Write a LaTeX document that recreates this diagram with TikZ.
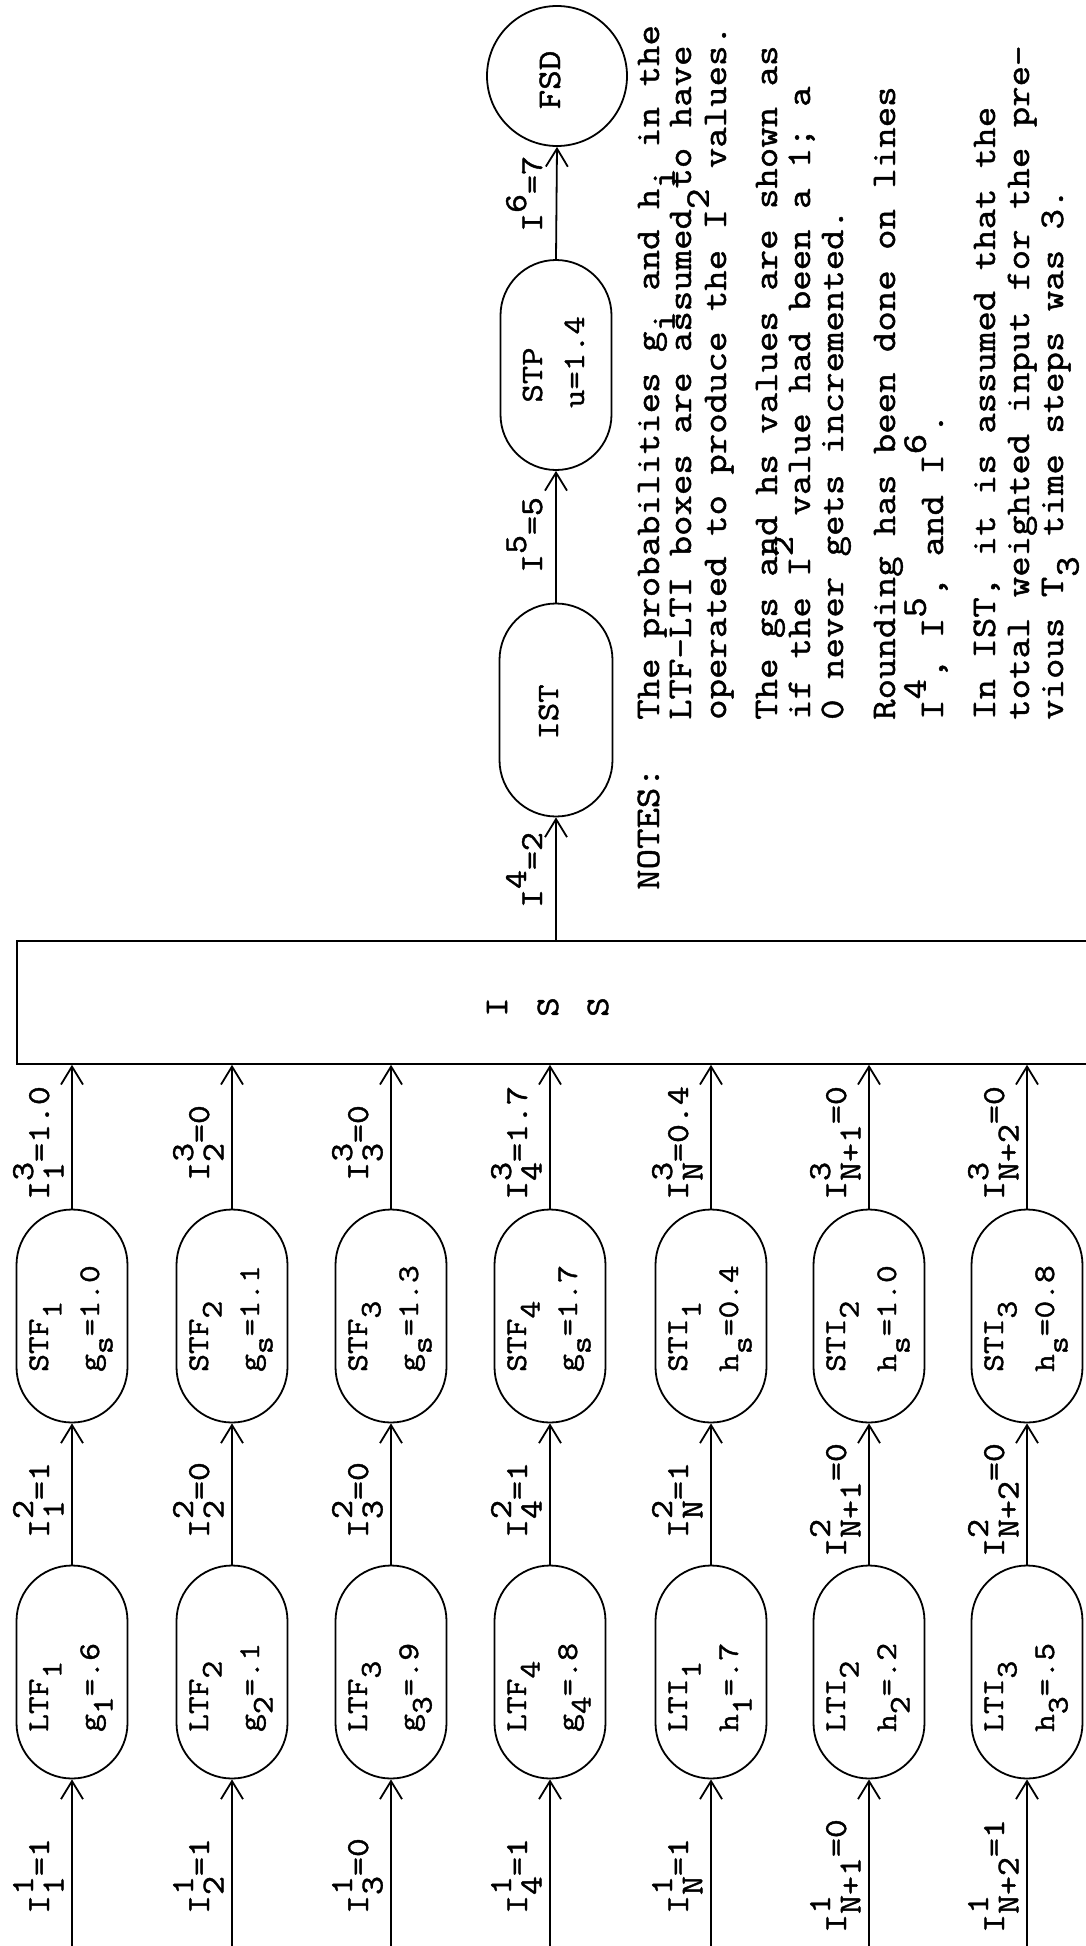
\documentclass[tikz,border=0pt]{standalone}
\usepackage{fontspec}
\setmainfont{Latin Modern Mono}[FakeStretch=1.15,FakeBold=1.3]
\usetikzlibrary{arrows.meta,shapes.misc}
\newcommand{\tup}[1]{\smash{\raisebox{0.5em}{#1}}}
\newcommand{\tdn}[1]{\smash{\raisebox{-0.45em}{#1}}}
\newcommand{\tss}[2]{\makebox[0pt][l]{\tup{#1}}\tdn{#2}}
\begin{document}
\begin{tikzpicture}[x=1pt,y=1pt,
  lw/.style={line width=1.8pt},
  box/.style={draw, lw, rounded rectangle, rotate=90, minimum width=213pt, minimum height=111pt, inner sep=0pt},
  bt/.style={rotate=90, anchor=base west, inner sep=0pt, font=\fontsize{30}{36}\selectfont},
  btc/.style={rotate=90, anchor=base, inner sep=0pt, font=\fontsize{31}{37}\selectfont},
  lab/.style={rotate=90, anchor=base, inner sep=0pt, font=\fontsize{32}{38}\selectfont},
  note/.style={rotate=90, anchor=base west, inner sep=0pt, font=\fontsize{34.5}{40}\selectfont},
  issl/.style={rotate=90, anchor=center, inner sep=0pt, font=\fontsize{33}{38}\selectfont},
  arr/.style={lw, -{Straight Barb[length=18pt,width=22pt]}}]
\useasboundingbox (0,0) rectangle (1086,-1946);
\fill[white] (0,0) rectangle (1086,-1946);
\clip (0,0) rectangle (1086,-1946);

% ISS block
\node[draw, lw, anchor=north west, minimum width=1100pt, minimum height=123pt, inner sep=0pt] (iss) at (16,-940) {};
\node[issl] (issa) at (497,-1007) {I};
\node[issl] (issb) at (548,-1007) {S};
\node[issl] (issc) at (598,-1007) {S};

% seven input chains
\foreach \cx/\kk/\ltn/\stn/\gl/\gv/\sv/\lsub/\va/\vb/\vc in {
  72/1/LTF/STF/g/.6/1.0/1/1/1/1.0,
  232/2/LTF/STF/g/.1/1.1/2/1/0/0,
  391/3/LTF/STF/g/.9/1.3/3/0/0/0,
  550/4/LTF/STF/g/.8/1.7/4/1/1/1.7,
  711/1/LTI/STI/h/.7/0.4/N/1/1/0.4,
  869/2/LTI/STI/h/.2/1.0/N+1/0/0/0,
  1027/3/LTI/STI/h/.5/0.8/N+2/1/0/0}{
  \node[box] (lt\cx) at (\cx,-1672) {};
  \node[box] (st\cx) at (\cx,-1316) {};
  \node[bt] (lta\cx) at (\cx-24,-1732) {\ltn\tdn{\kk}};
  \node[bt] (ltb\cx) at (\cx+27,-1732) {\gl\tdn{\kk}=\gv};
  \node[bt] (sta\cx) at (\cx-24,-1372) {\stn\tdn{\kk}};
  \node[bt] (stb\cx) at (\cx+27,-1372) {\gl\tdn{s}=\sv};
  \node[lab] (la\cx) at (\cx-23,-1876) {I\tss{1}{\lsub}=\va};
  \node[lab] (lb\cx) at (\cx-23,-1500) {I\tss{2}{\lsub}=\vb};
  \node[lab] (lc\cx) at (\cx-23,-1143) {I\tss{3}{\lsub}=\vc};
  \coordinate (in\cx) at (\cx,-1960);
  \draw[arr] (in\cx) -- (lt\cx.west);
  \draw[arr] (lt\cx.east) -- (st\cx.west);
  \draw[arr] (st\cx.east) -- (st\cx.east |- iss.south);
}

% output chain
\node[box, minimum height=113pt] (ist) at (556,-710) {};
\node[btc] (istt) at (558,-712) {IST};
\node[box, minimum width=210pt] (stp) at (556,-365) {};
\node[btc] (stpa) at (542,-375) {STP};
\node[btc] (stpb) at (584,-362) {u=1.4};
\node[draw, lw, circle, minimum size=140pt, inner sep=0pt] (fsd) at (557,-76) {};
\node[btc, font=\fontsize{33}{38}\selectfont] (fsdt) at (560,-80) {FSD};

\draw[arr] (ist.west |- iss.north) -- (ist.west);
\draw[arr] (ist.east) -- (stp.west);
\draw[arr] (stp.east) -- (fsd.south);

\node[lab] (l4) at (542,-870) {I\tup{4}=2};
\node[lab] (l5) at (542,-535) {I\tup{5}=5};
\node[lab] (l6) at (542,-194) {I\tup{6}=7};

% notes
\node[note] (notes) at (659,-890) {NOTES:};
\node[note] (n1) at (659,-720) {The probabilities g\tdn{i} and h\tdn{i} in the};
\node[note] (n2) at (691,-720) {LTF-LTI boxes are assumed to have};
\node[note] (n3) at (726,-720) {operated to produce the I\tup{2} values.};
\node[note] (n4) at (777,-720) {The gs and hs values are shown as};
\node[note] (n5) at (810,-720) {if the I\tup{2} value had been a 1; a};
\node[note] (n6) at (843,-720) {0 never gets incremented.};
\node[note] (n7) at (895,-720) {Rounding has been done on lines};
\node[note] (n8) at (943,-720) {I\tup{4}, I\tup{5}, and I\tup{6}.};
\node[note] (n9) at (995,-720) {In IST, it is assumed that the};
\node[note] (n10) at (1029,-720) {total weighted input for the pre-};
\node[note] (n11) at (1063,-720) {vious T\tdn{3} time steps was 3.};
\end{tikzpicture}
\end{document}
